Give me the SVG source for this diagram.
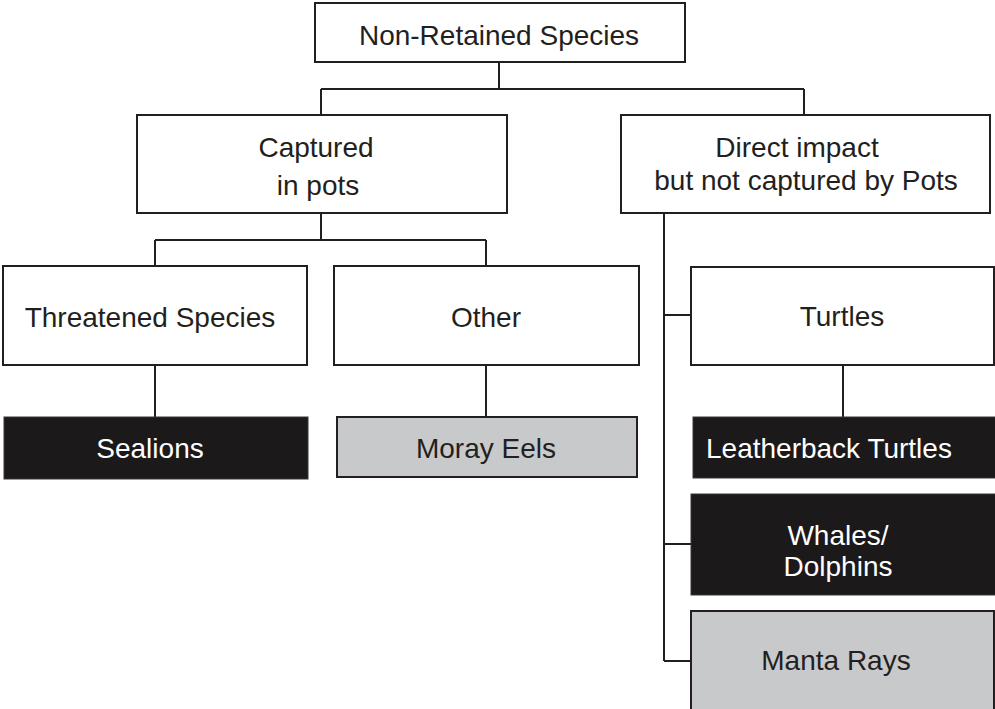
<svg xmlns="http://www.w3.org/2000/svg" width="995" height="709" viewBox="0 0 995 709">
  <style>
    .box { fill: #ffffff; stroke: #231f20; stroke-width: 2; }
    .dark { fill: #1c191b; stroke: #3a3739; stroke-width: 1; }
    .grey { fill: #c8c9cb; stroke: #231f20; stroke-width: 2; }
    .lbl { font-family: "Liberation Sans", Arial, sans-serif; font-size: 28px; fill: #231f20; text-anchor: middle; }
    .inv { fill: #ffffff; }
    .wire { fill: none; stroke: #231f20; stroke-width: 2; }
  </style>
  <rect width="995" height="709" fill="#ffffff"/>

  <!-- connectors -->
  <g id="connectors" class="wire">
    <path d="M499 62 V89 M321 89 H804 M321 89 V115 M804 89 V115"/>
    <path d="M321 213 V240 M155 240 H486 M155 240 V266 M486 240 V266"/>
    <path d="M155 365 V417"/>
    <path d="M486 365 V417"/>
    <path d="M664 213 V661 M664 315 H691 M664 544 H691 M664 661 H691"/>
    <path d="M843 365 V417"/>
  </g>

  <g id="non-retained">
    <rect class="box" x="315" y="3" width="370" height="59"/>
    <text class="lbl" x="499" y="45">Non-Retained Species</text>
  </g>

  <g id="captured">
    <rect class="box" x="137" y="115" width="370" height="98"/>
    <text class="lbl" x="316" y="157">Captured</text>
    <text class="lbl" x="318" y="195">in pots</text>
  </g>

  <g id="direct-impact">
    <rect class="box" x="621" y="115" width="369" height="98"/>
    <text class="lbl" x="797" y="157">Direct impact</text>
    <text class="lbl" x="806" y="190">but not captured by Pots</text>
  </g>

  <g id="threatened">
    <rect class="box" x="3" y="266" width="304" height="99"/>
    <text class="lbl" x="150" y="327">Threatened Species</text>
  </g>

  <g id="other">
    <rect class="box" x="334" y="266" width="305" height="99"/>
    <text class="lbl" x="486" y="327">Other</text>
  </g>

  <g id="turtles">
    <rect class="box" x="691" y="267" width="303" height="98"/>
    <text class="lbl" x="842" y="326">Turtles</text>
  </g>

  <g id="sealions">
    <rect class="dark" x="4" y="417" width="304" height="62"/>
    <text class="lbl inv" x="150" y="458">Sealions</text>
  </g>

  <g id="moray-eels">
    <rect class="grey" x="337" y="417" width="300" height="60"/>
    <text class="lbl" x="486" y="458">Moray Eels</text>
  </g>

  <g id="leatherback">
    <rect class="dark" x="693" y="417" width="303" height="61"/>
    <text class="lbl inv" x="706" y="458" style="text-anchor:start">Leatherback Turtles</text>
  </g>

  <g id="whales-dolphins">
    <rect class="dark" x="691" y="494" width="305" height="101"/>
    <text class="lbl inv" x="838" y="545">Whales/</text>
    <text class="lbl inv" x="838" y="576">Dolphins</text>
  </g>

  <g id="manta-rays">
    <rect class="grey" x="691" y="611" width="303" height="110"/>
    <text class="lbl" x="836" y="670">Manta Rays</text>
  </g>
</svg>
